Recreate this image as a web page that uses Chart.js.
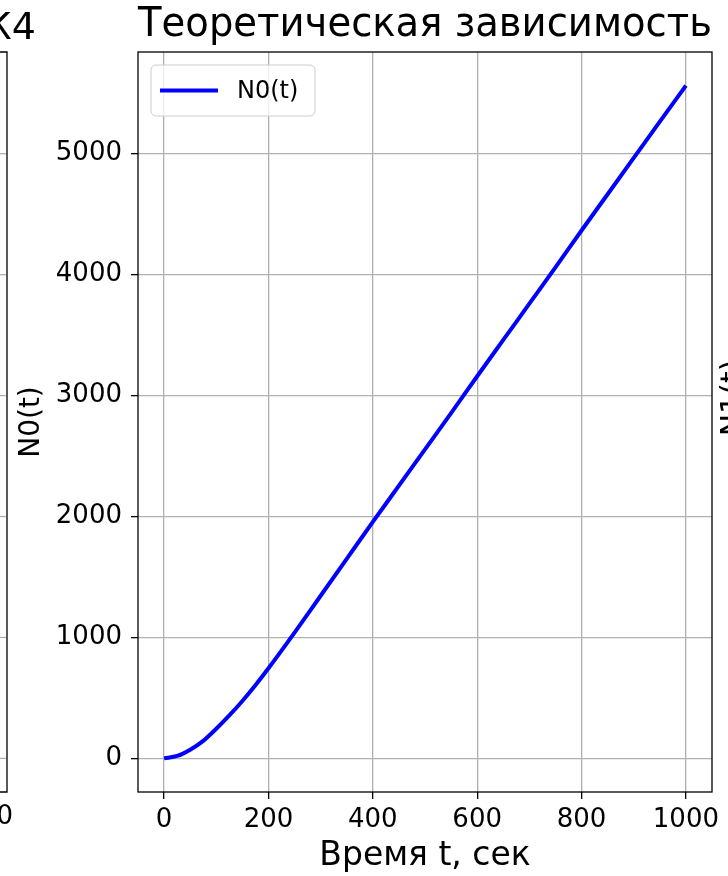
<!DOCTYPE html>
<html>
<head>
<meta charset="utf-8">
<script src="https://cdn.jsdelivr.net/npm/chart.js@4"></script>
<style>
  html, body { margin: 0; padding: 0; background: #fff; }
  #wrap { width: 728px; height: 876px; }
</style>
</head>
<body>
<div id="wrap"><canvas id="n0Chart" width="728" height="876"></canvas></div>
<script>
// values
const timeSec = [0, 25, 50, 75, 100, 125, 150, 175, 200, 250, 300, 350, 400,
                 450, 500, 550, 600, 650, 700, 750, 800, 850, 900, 950, 1000];
const n0Values = [0, 20, 72, 145, 245, 355, 475, 605, 745, 1040, 1345, 1650, 1955,
                  2255, 2555, 2855, 3160, 3460, 3760, 4060, 4365, 4665, 4965, 5265, 5563];
const xTicks = [0, 200, 400, 600, 800, 1000];
const yTicks = [0, 1000, 2000, 3000, 4000, 5000];

const FONT = 'DejaVu Sans';

// frame + legend drawn inside the plot area, like matplotlib
const framePlugin = {
    id: 'frame',
    afterDraw(chart) {
        const ctx = chart.ctx;
        const a = chart.chartArea;
        ctx.save();
        ctx.strokeStyle = '#000';
        ctx.lineWidth = 1.3;
        ctx.strokeRect(a.left, a.top, a.right - a.left, a.bottom - a.top);

        // legend box
        const ds = chart.data.datasets[0];
        const lx = a.left + 13, ly = a.top + 13, lw = 164, lh = 51;
        ctx.beginPath();
        ctx.roundRect(lx, ly, lw, lh, 5);
        ctx.fillStyle = 'rgba(255,255,255,0.8)';
        ctx.fill();
        ctx.strokeStyle = '#cccccc';
        ctx.lineWidth = 1;
        ctx.stroke();
        ctx.beginPath();
        ctx.moveTo(lx + 9, ly + lh / 2);
        ctx.lineTo(lx + 67, ly + lh / 2);
        ctx.strokeStyle = ds.borderColor;
        ctx.lineWidth = 4;
        ctx.stroke();
        ctx.fillStyle = '#000';
        ctx.font = '24px ' + FONT;
        ctx.textBaseline = 'middle';
        ctx.fillText(ds.label, lx + 86, ly + lh / 2 + 1);

        // pieces of the neighbouring subplots cut off by the crop
        ctx.strokeStyle = '#000';
        ctx.lineWidth = 1.3;
        ctx.beginPath();
        ctx.moveTo(0, a.top); ctx.lineTo(7, a.top); ctx.lineTo(7, a.bottom); ctx.lineTo(0, a.bottom);
        ctx.stroke();
        ctx.strokeStyle = '#b0b0b0';
        const ys = chart.scales.y;
        yTicks.forEach(v => {
            const py = ys.getPixelForValue(v);
            ctx.beginPath(); ctx.moveTo(0, py); ctx.lineTo(6, py); ctx.stroke();
        });
        ctx.fillStyle = '#000';
        ctx.font = '38px ' + FONT;
        ctx.textAlign = 'right';
        ctx.textBaseline = 'alphabetic';
        ctx.fillText('К4', 36, 39);
        ctx.font = '26px ' + FONT;
        ctx.textBaseline = 'top';
        ctx.fillText('1000', 13, 804);
        ctx.translate(742, 398);
        ctx.rotate(-Math.PI / 2);
        ctx.textAlign = 'center';
        ctx.textBaseline = 'alphabetic';
        ctx.font = '30px ' + FONT;
        ctx.fillText('N1(t)', 0, 0);
        ctx.restore();
    }
};

const ctx = document.getElementById('n0Chart').getContext('2d');
new Chart(ctx, {
    type: 'line',
    data: {
        datasets: [{
            label: 'N0(t)',
            data: timeSec.map((t, i) => ({ x: t, y: n0Values[i] })),
            borderColor: '#0000ff',
            borderWidth: 4,
            pointRadius: 0,
            fill: false,
            cubicInterpolationMode: 'monotone'
        }]
    },
    options: {
        responsive: false,
        animation: false,
        layout: { padding: { left: 0, right: 16, top: 0, bottom: 0 } },
        plugins: {
            legend: { display: false },
            tooltip: { enabled: false },
            title: {
                display: true,
                text: 'Теоретическая зависимость',
                fullSize: false,
                color: '#000',
                font: { family: FONT, size: 40, weight: 'normal', lineHeight: 1.2 },
                padding: { top: 2, bottom: 2 }
            }
        },
        scales: {
            x: {
                type: 'linear',
                min: -50,
                max: 1050,
                afterBuildTicks: s => { s.ticks = xTicks.map(v => ({ value: v })); },
                afterFit: s => { s.height = 84; },
                ticks: {
                    color: '#000', font: { family: FONT, size: 26 }, padding: 6, maxRotation: 0,
                    callback: v => String(v)
                },
                grid: { color: '#b0b0b0', lineWidth: 1.3, tickColor: '#000', tickLength: 7 },
                border: { display: false },
                title: {
                    display: true, text: 'Время t, сек', color: '#000',
                    font: { family: FONT, size: 33 }, padding: { top: 0, bottom: 0 }
                }
            },
            y: {
                type: 'linear',
                min: -278,
                max: 5841,
                afterBuildTicks: s => { s.ticks = yTicks.map(v => ({ value: v })); },
                afterFit: s => { s.width = 138; },
                ticks: {
                    color: '#000', font: { family: FONT, size: 26 }, padding: 9,
                    callback: v => String(v)
                },
                grid: { color: '#b0b0b0', lineWidth: 1.3, tickColor: '#000', tickLength: 7 },
                border: { display: false },
                title: {
                    display: true, text: 'N0(t)', color: '#000',
                    font: { family: FONT, size: 28 }, padding: { top: 15, bottom: 0 }
                }
            }
        }
    },
    plugins: [framePlugin]
});
</script>
</body>
</html>
